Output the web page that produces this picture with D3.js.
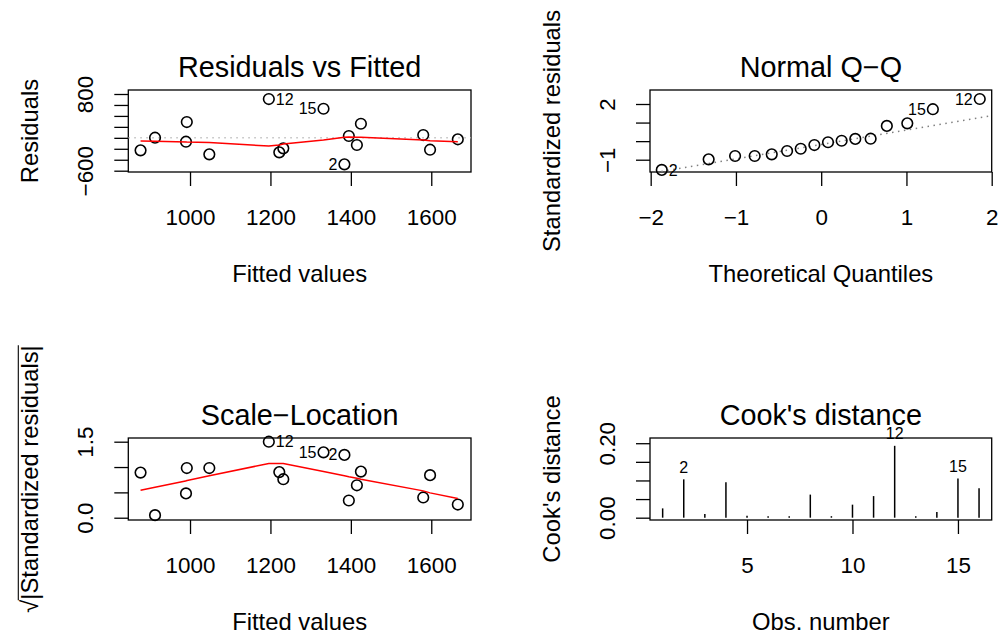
<!DOCTYPE html>
<html>
<head>
<meta charset="utf-8">
<script src="https://cdn.jsdelivr.net/npm/d3@7"></script>
<style>
  body { margin: 0; background: #fff; }
  svg text { font-family: "Liberation Sans", Arial, Helvetica, sans-serif; fill: #000; }
</style>
</head>
<body>
<div id="chart"></div>
<script>
// Residuals vs Fitted (points in order of fitted value)
var rvfFitted = [877, 913, 992, 990, 1048, 1196, 1222, 1232, 1332, 1384, 1395, 1415, 1425, 1580, 1597, 1666];
var rvfResid  = [-228, 2, 288, -71, -301, 708, -265, -192, 531, -484, 33, -131, 257, 51, -217, -27];
var rvfIds    = ["", "", "", "", "", "12", "", "", "15", "2", "", "", "", "", "", ""];
var rvfSmooth = [-58, -64, -77, -77, -83, -150, -131, -113, -40, 9, 15, 9, 9, -40, -53, -71];
var rvfYTicks = [-600, -400, -200, 0, 200, 400, 600, 800];
var rvfYShown = [-600, 800];
var fittedTicks = [1000, 1200, 1400, 1600];

// Normal Q-Q
var qqTheo  = [-1.87, -1.32, -1.01, -0.78, -0.58, -0.40, -0.24, -0.08, 0.08, 0.24, 0.40, 0.58, 0.77, 1.01, 1.31, 1.86];
var qqStd   = [-1.55, -0.98, -0.80, -0.80, -0.71, -0.53, -0.41, -0.21, -0.06, 0.02, 0.12, 0.13, 0.82, 0.96, 1.72, 2.27];
var qqIds   = ["2", "", "", "", "", "", "", "", "", "", "", "", "", "", "15", "12"];
var qqLineX = [-2.5, 2.5];
var qqLineY = [-2.12, 1.76];
var qqXTicks = [-2, -1, 0, 1, 2];
var qqYTicks = [-1, 0, 1, 2];
var qqYShown = [-1, 2];

// Scale-Location (same fitted values as above)
var slRoot   = [0.89, 0.05, 0.98, 0.48, 0.98, 1.50, 0.90, 0.76, 1.29, 1.24, 0.34, 0.64, 0.91, 0.40, 0.84, 0.26];
var slSmooth = [0.54, 0.60, 0.73, 0.73, 0.83, 1.07, 1.07, 1.07, 0.91, 0.83, 0.81, 0.78, 0.76, 0.53, 0.49, 0.38];
var slYTicks = [0, 0.5, 1, 1.5];
var slYShown = [0, 1.5];

// Cook's distance
var cookObs  = [1, 2, 3, 4, 5, 6, 7, 8, 9, 10, 11, 12, 13, 14, 15, 16];
var cookDist = [0.025, 0.103, 0.010, 0.095, 0.005, 0.003, 0.002, 0.062, 0.002, 0.035, 0.058, 0.193, 0.002, 0.015, 0.105, 0.079];
var cookIds  = ["", "2", "", "", "", "", "", "", "", "", "", "12", "", "", "15", ""];
var cookXTicks = [5, 10, 15];
var cookYTicks = [0, 0.05, 0.10, 0.15, 0.20];
var cookYShown = [0, 0.2];

var width = 1000, height = 637;
var tickFont = 22.4, labFont = 23.8, titleFont = 28.8, idFont = 16;

var svg = d3.select("#chart").append("svg")
    .attr("width", width)
    .attr("height", height);

function panel(p) {
  var x = d3.scaleLinear().domain(p.xDomain).range([p.left, p.right]);
  var y = d3.scaleLinear().domain(p.yDomain).range([p.bottom, p.top]);
  var g = svg.append("g");

  var xa = g.append("g")
      .attr("transform", "translate(0," + p.bottom + ")")
      .call(d3.axisBottom(x).tickValues(p.xTicks).tickSize(14).tickFormat(p.xFormat));
  xa.select(".domain").remove();
  xa.selectAll(".tick line").attr("stroke", "#000").attr("stroke-width", 1.3);
  xa.selectAll(".tick text").attr("y", 53).attr("dy", null).attr("font-size", tickFont);

  var ya = g.append("g")
      .attr("transform", "translate(" + p.left + ",0)")
      .call(d3.axisLeft(y).tickValues(p.yTicks).tickSize(14)
        .tickFormat(d => p.yShown.indexOf(d) >= 0 ? p.yFormat(d) : ""));
  ya.select(".domain").remove();
  ya.selectAll(".tick line").attr("stroke", "#000").attr("stroke-width", 1.3);
  ya.selectAll(".tick text")
      .attr("transform", "rotate(-90)")
      .attr("x", 0).attr("y", -35).attr("dy", null)
      .attr("text-anchor", "middle")
      .attr("font-size", tickFont);

  g.append("rect")
      .attr("x", p.left).attr("y", p.top)
      .attr("width", p.right - p.left).attr("height", p.bottom - p.top)
      .attr("fill", "none").attr("stroke", "#000").attr("stroke-width", 1.3);

  g.append("text")
      .attr("x", (p.left + p.right) / 2).attr("y", p.top - 12.7)
      .attr("text-anchor", "middle").attr("font-size", titleFont)
      .text(p.title);

  g.append("text")
      .attr("x", (p.left + p.right) / 2).attr("y", p.bottom + 109.7)
      .attr("text-anchor", "middle").attr("font-size", labFont)
      .text(p.xLabel);

  if (p.yLabel) {
    g.append("text")
        .attr("transform", "translate(" + (p.left - 90) + "," + ((p.top + p.bottom) / 2) + ") rotate(-90)")
        .attr("text-anchor", "middle").attr("font-size", labFont)
        .text(p.yLabel);
  }

  var id = "clip" + Math.round(p.left) + Math.round(p.top);
  svg.append("clipPath").attr("id", id)
    .append("rect")
      .attr("x", p.left).attr("y", p.top)
      .attr("width", p.right - p.left).attr("height", p.bottom - p.top);

  return {g: g, x: x, y: y, clip: "url(#" + id + ")"};
}

function points(pn, xs, ys) {
  pn.g.append("g").selectAll("circle")
      .data(xs)
    .enter().append("circle")
      .attr("cx", (d, i) => pn.x(d))
      .attr("cy", (d, i) => pn.y(ys[i]))
      .attr("r", 5.3)
      .attr("fill", "none")
      .attr("stroke", "#000")
      .attr("stroke-width", 1.6);
}

function idLabels(pn, xs, ys, ids, mid) {
  pn.g.append("g").selectAll("text")
      .data(xs)
    .enter().filter((d, i) => ids[i] !== "").append("text")
      .attr("x", d => pn.x(d) + (d < mid ? 7 : -7))
      .attr("y", d => pn.y(ys[xs.indexOf(d)]))
      .attr("dy", "0.35em")
      .attr("text-anchor", d => d < mid ? "start" : "end")
      .attr("font-size", idFont)
      .text(d => ids[xs.indexOf(d)]);
}

function smooth(pn, xs, ys) {
  pn.g.append("path")
      .datum(xs)
      .attr("fill", "none")
      .attr("stroke", "#ff0000")
      .attr("stroke-width", 1.5)
      .attr("d", d3.line().x(d => pn.x(d)).y((d, i) => pn.y(ys[i])));
}

// --- panel 1 ---
var p1 = panel({
  left: 128.3, right: 471, top: 90, bottom: 172,
  xDomain: [846.5, 1698.8], yDomain: [-623.7, 873],
  xTicks: fittedTicks, xFormat: d3.format("d"),
  yTicks: rvfYTicks, yShown: rvfYShown, yFormat: d3.format("d"),
  title: "Residuals vs Fitted", xLabel: "Fitted values", yLabel: "Residuals"
});
p1.g.append("line")
    .attr("clip-path", p1.clip)
    .attr("x1", p1.x.range()[0]).attr("x2", p1.x.range()[1])
    .attr("y1", p1.y(0)).attr("y2", p1.y(0))
    .attr("stroke", "#bebebe").attr("stroke-width", 1.5)
    .attr("stroke-dasharray", "1.5,4.5");
points(p1, rvfFitted, rvfResid);
smooth(p1, rvfFitted, rvfSmooth);
idLabels(p1, rvfFitted, rvfResid, rvfIds, 1270);

// --- panel 2 ---
var p2 = panel({
  left: 650, right: 991.7, top: 90, bottom: 172,
  xDomain: [-2.008, 2.0], yDomain: [-1.662, 2.754],
  xTicks: qqXTicks, xFormat: d3.format("d"),
  yTicks: qqYTicks, yShown: qqYShown, yFormat: d3.format("d"),
  title: "Normal Q\u2212Q", xLabel: "Theoretical Quantiles", yLabel: "Standardized residuals"
});
p2.g.append("line")
    .attr("clip-path", p2.clip)
    .attr("x1", p2.x(qqLineX[0])).attr("x2", p2.x(qqLineX[1]))
    .attr("y1", p2.y(qqLineY[0])).attr("y2", p2.y(qqLineY[1]))
    .attr("stroke", "#7f7f7f").attr("stroke-width", 1.3)
    .attr("stroke-dasharray", "1.5,4.5");
points(p2, qqTheo, qqStd);
idLabels(p2, qqTheo, qqStd, qqIds, 0);

// --- panel 3 ---
var p3 = panel({
  left: 128.3, right: 471, top: 438, bottom: 520,
  xDomain: [846.5, 1698.8], yDomain: [-0.045, 1.573],
  xTicks: fittedTicks, xFormat: d3.format("d"),
  yTicks: slYTicks, yShown: slYShown, yFormat: d3.format(".1f"),
  title: "Scale\u2212Location", xLabel: "Fitted values", yLabel: null
});
points(p3, rvfFitted, slRoot);
smooth(p3, rvfFitted, slSmooth);
idLabels(p3, rvfFitted, slRoot, rvfIds, 1270);

// sqrt(|Standardized residuals|) label with radical bar
var sl = svg.append("g")
    .attr("transform", "translate(38.3," + ((438 + 520) / 2) + ") rotate(-90)");
var slText = sl.append("text")
    .attr("text-anchor", "middle").attr("font-size", labFont)
    .text("\u221A|Standardized residuals|");
var len = slText.node().getComputedTextLength();
var rw = slText.node().getSubStringLength(0, 1);
sl.append("line")
    .attr("x1", -len / 2 + rw - 0.5).attr("x2", len / 2)
    .attr("y1", -20).attr("y2", -20)
    .attr("stroke", "#000").attr("stroke-width", 1.1);

// --- panel 4 ---
var p4 = panel({
  left: 650, right: 991.7, top: 438, bottom: 520,
  xDomain: [0.4, 16.6], yDomain: [-0.0062, 0.214],
  xTicks: cookXTicks, xFormat: d3.format("d"),
  yTicks: cookYTicks, yShown: cookYShown, yFormat: d3.format(".2f"),
  title: "Cook's distance", xLabel: "Obs. number", yLabel: "Cook's distance"
});
p4.g.append("g").selectAll("line")
    .data(cookObs)
  .enter().append("line")
    .attr("x1", d => p4.x(d)).attr("x2", d => p4.x(d))
    .attr("y1", p4.y(0))
    .attr("y2", (d, i) => Math.min(p4.y(cookDist[i]), p4.y(0) - 1.5))
    .attr("stroke", "#000").attr("stroke-width", 1.5);
p4.g.append("g").selectAll("text")
    .data(cookObs.filter((d, i) => cookIds[i] !== ""))
  .enter().append("text")
    .attr("x", d => p4.x(d))
    .attr("y", d => p4.y(cookDist[d - 1]) - 6.5)
    .attr("text-anchor", "middle")
    .attr("font-size", idFont)
    .text(d => cookIds[d - 1]);
</script>
</body>
</html>
